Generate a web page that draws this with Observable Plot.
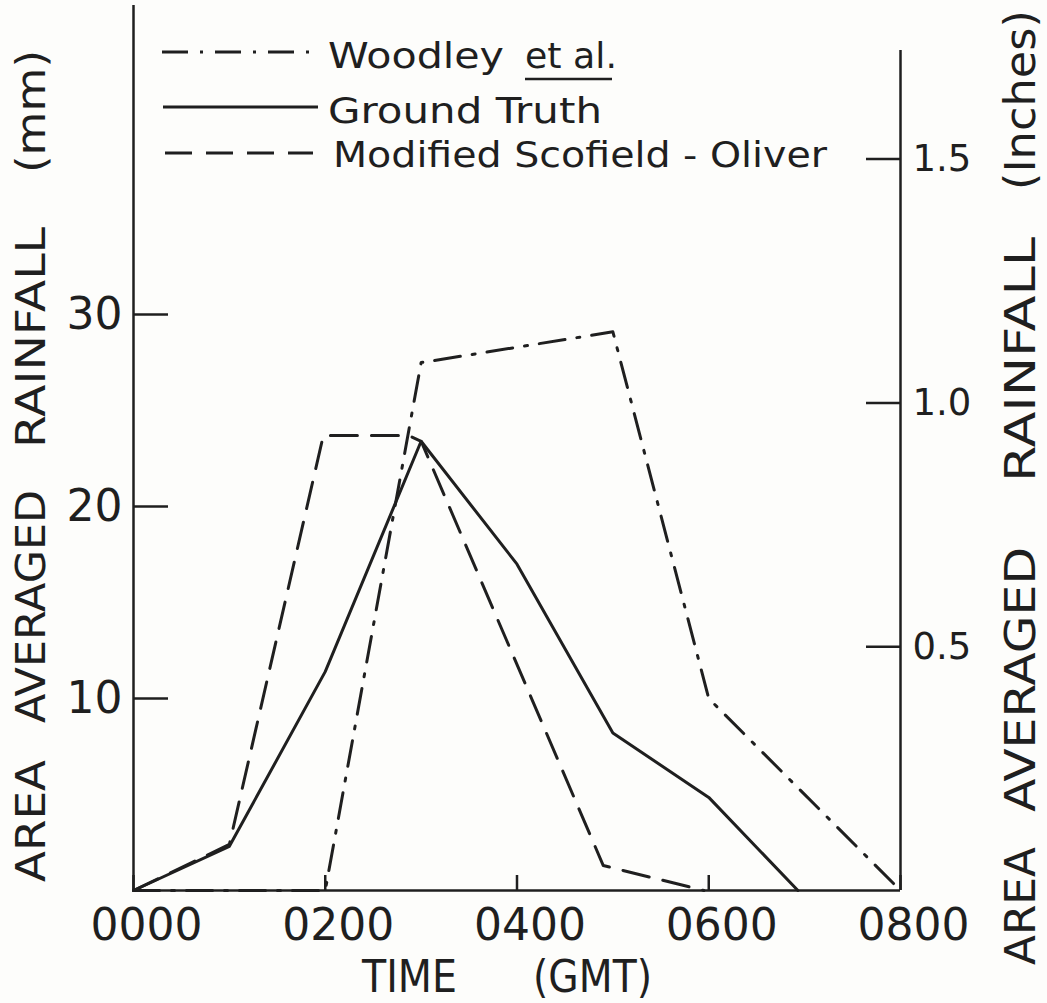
<!DOCTYPE html>
<html><head><meta charset="utf-8">
<script src="https://cdn.jsdelivr.net/npm/d3@7"></script>
<script src="https://cdn.jsdelivr.net/npm/@observablehq/plot@0.6"></script>
<style>
html,body{margin:0;padding:0;background:#fdfdfb;}
#chart svg{display:block;}
</style></head><body><div id="chart"></div>
<script>
// ---- data ----
const groundTruthTime = [0, 1.0, 2.0, 3.0, 4.0, 5.0, 6.0, 6.93];
const groundTruthMm   = [0, 2.3, 11.4, 23.4, 17.0, 8.2, 4.85, 0];
const scofieldTime    = [0, 1.0, 1.98, 2.87, 3.0, 4.9, 5.95];
const scofieldMm      = [0, 2.4, 23.7, 23.7, 23.4, 1.3, 0];
const woodleyTime     = [0, 2.0, 3.0, 5.0, 6.0, 8.0];
const woodleyMm       = [0, 0, 27.5, 29.1, 10.0, 0];
const timeTicks  = [0, 2, 4, 6, 8];           // hours (GMT)
const mmTicks    = [10, 20, 30];
const inchTicks  = [0.5, 1.0, 1.5];
const legendNames = ["Woodley", "et al.", "Ground Truth", "Modified Scofield - Oliver"];
const MM_PER_INCH = 25.4;

const ink = "#1f1f1f";
const FONT = "DejaVu Sans, sans-serif";
const dashDot = "26,12,3,12";
const dashed = "27,14";

const rows = (name, t, v) => t.map((d, i) => ({series: name, time: d, mm: v[i]}));
const woodley = rows("Woodley", woodleyTime, woodleyMm);
const ground = rows("Ground", groundTruthTime, groundTruthMm);
const scof = rows("Scofield", scofieldTime, scofieldMm);

const plot = Plot.plot({
  width: 1047, height: 1003,
  marginLeft: 133, marginRight: 147, marginTop: 5, marginBottom: 113,
  x: {domain: [0, 8]},
  y: {domain: [0, 46.1]},
  style: {fontFamily: FONT, color: ink, background: "#fdfdfb"},
  marks: [
    Plot.axisY(mmTicks, {anchor: "left", tickSize: -35, tickPadding: 46, fontSize: 44, label: null, strokeWidth: 2.5}),
    Plot.axisY(inchTicks.map(v => v * MM_PER_INCH), {anchor: "right", tickSize: -35, tickPadding: 47, fontSize: 37, label: null, strokeWidth: 2.5,
      tickFormat: d => (d / MM_PER_INCH).toFixed(1)}),
    // x ticks (pointing up) and x tick labels as separate axis marks
    Plot.axisX(timeTicks, {anchor: "bottom", tickSize: -15, tickFormat: () => "", label: null, strokeWidth: 2.5}),
    Plot.axisX(timeTicks, {anchor: "bottom", tickSize: 0, tickPadding: 18, fontSize: 44, dx: 13, label: null,
      tickFormat: d => String(d * 100).padStart(4, "0")}),
    Plot.ruleX([0], {stroke: ink, strokeWidth: 2.5}),
    Plot.ruleX([8], {stroke: ink, strokeWidth: 2.5, insetTop: 45}),
    Plot.ruleY([0], {stroke: ink, strokeWidth: 2.5}),
    Plot.line(woodley, {x: "time", y: "mm", stroke: ink, strokeWidth: 3, strokeDasharray: dashDot}),
    Plot.line(scof, {x: "time", y: "mm", stroke: ink, strokeWidth: 3, strokeDasharray: dashed}),
    Plot.line(ground, {x: "time", y: "mm", stroke: ink, strokeWidth: 3})
  ]
});
document.getElementById("chart").appendChild(plot);

// ---- titles and legend ----
const svg = d3.select(plot);
const g = svg.append("g").attr("fill", ink).attr("text-anchor", "start").style("font-family", FONT);
function word(txt, x, y, size, len, rot) {
  return g.append("text").attr("font-size", size).attr("text-anchor", "start")
    .attr("transform", `translate(${x},${y})` + (rot ? ` rotate(${rot})` : ""))
    .attr("textLength", len).attr("lengthAdjust", "spacingAndGlyphs").text(txt);
}
// left title (reads bottom to top)
const leftWords = [["AREA", 882, 122], ["AVERAGED", 723, 233], ["RAINFALL", 448, 221], ["(mm)", 173, 123]];
leftWords.forEach(([t, y, l]) => word(t, 45, y, 41, l, -90));
// right title
const rightWords = [["AREA", 965, 118], ["AVERAGED", 812, 265], ["RAINFALL", 482, 245], ["(Inches)", 190, 180]];
rightWords.forEach(([t, y, l]) => word(t, 1035, y, 43, l, -90));
// bottom title
word("TIME", 362, 992, 44, 95);
word("(GMT)", 533, 992, 44, 119);

// legend
const lg = svg.append("g");
const legendRows = [
  {y: 52, dash: dashDot, x1: 162, x2: 310},
  {y: 107, dash: null, x1: 163, x2: 318},
  {y: 153, dash: dashed, x1: 165, x2: 313}
];
legendRows.forEach(r => {
  lg.append("line").attr("x1", r.x1).attr("x2", r.x2).attr("y1", r.y).attr("y2", r.y)
    .attr("stroke", ink).attr("stroke-width", 3).attr("stroke-dasharray", r.dash);
});
word(legendNames[0], 328, 68, 35, 176);
word(legendNames[1], 525, 68, 35, 92);
lg.append("line").attr("x1", 525).attr("x2", 612).attr("y1", 79).attr("y2", 79).attr("stroke", ink).attr("stroke-width", 2.5);
word(legendNames[2], 328, 123, 35, 274);
word(legendNames[3], 333, 167, 35, 494);
</script></body></html>
